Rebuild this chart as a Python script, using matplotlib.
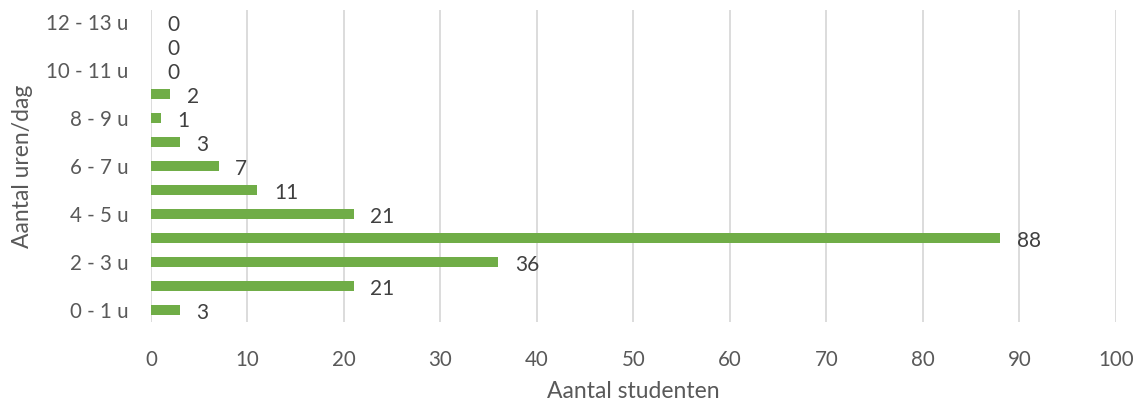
import matplotlib.pyplot as plt
import numpy as np

# categorieën: uren per dag
categories = ["0 - 1 u", "1 - 2 u", "2 - 3 u", "3 - 4 u", "4 - 5 u", "5 - 6 u",
              "6 - 7 u", "7 - 8 u", "8 - 9 u", "9 - 10 u", "10 - 11 u",
              "11 - 12 u", "12 - 13 u"]
students = [3, 21, 36, 88, 21, 11, 7, 3, 1, 2, 0, 0, 0]
x_ticks = [0, 10, 20, 30, 40, 50, 60, 70, 80, 90, 100]

plt.rcParams['font.family'] = ['Lato', 'DejaVu Sans']

fig = plt.figure(figsize=(11.37, 4.03), dpi=100)
ax = fig.add_axes([0.1328, 0.201, 0.8487, 0.774])

y = np.arange(len(categories))
ax.barh(y, students, height=0.42, color="#70AD47", zorder=3)

# datalabels naast de balken
for yi, v in zip(y, students):
    ax.annotate(str(v), (v, yi), xytext=(12, -2), textcoords="offset points",
                ha="left", va="center", fontsize=15, color="#404040")

ax.set_xlim(0, 100)
ax.set_ylim(-0.5, len(categories) - 0.5)
ax.set_xticks(x_ticks)
ax.set_yticks(y[::2])
ax.set_yticklabels(categories[::2])
ax.tick_params(axis="both", length=0, labelsize=14.8, labelcolor="#595959")
ax.tick_params(axis="x", pad=20)
ax.tick_params(axis="y", pad=16)

ax.grid(axis="x", color="#D9D9D9", linewidth=1.3, zorder=0)
for s in ax.spines.values():
    s.set_visible(False)

ax.set_xlabel("Aantal studenten", fontsize=16.5, color="#595959", labelpad=8)
ax.set_ylabel("Aantal uren/dag", fontsize=16.5, color="#595959", labelpad=10)

fig.savefig("out.png", dpi=100)
